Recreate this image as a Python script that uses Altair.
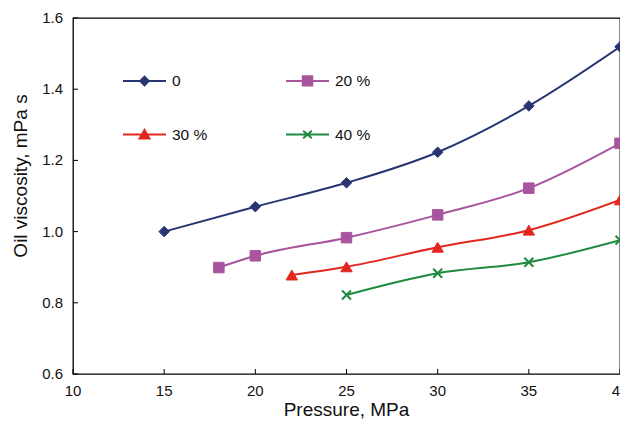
import altair as alt
import pandas as pd

series = ["0", "20 %", "30 %", "40 %"]
colors = ["#283571", "#a8559f", "#e2271f", "#1e8a3e"]

pressure_0 = [15, 20, 25, 30, 35, 40]
visc_0 = [1.00, 1.07, 1.137, 1.223, 1.353, 1.519]
pressure_20 = [18, 20, 25, 30, 35, 40]
visc_20 = [0.899, 0.932, 0.983, 1.047, 1.122, 1.248]
pressure_30 = [22, 25, 30, 35, 40]
visc_30 = [0.878, 0.901, 0.956, 1.004, 1.089]
pressure_40 = [25, 30, 35, 40]
visc_40 = [0.822, 0.883, 0.914, 0.976]

x_ticks = [10, 15, 20, 25, 30, 35, 40]
y_ticks = [0.6, 0.8, 1.0, 1.2, 1.4, 1.6]
x_title = "Pressure, MPa"
y_title = "Oil viscosity, mPa s"

rows = []
for name, ps, vs in zip(series, [pressure_0, pressure_20, pressure_30, pressure_40],
                        [visc_0, visc_20, visc_30, visc_40]):
    for p, v in zip(ps, vs):
        rows.append({"series": name, "pressure": p, "viscosity": v})
df = pd.DataFrame(rows)
xt_df = pd.DataFrame({"t": x_ticks})
yt_df = pd.DataFrame({"t": y_ticks})
xtitle_df = pd.DataFrame({"label": [x_title]})
ytitle_df = pd.DataFrame({"label": [y_title]})

W, H = 547, 356
FONT = "Liberation Sans"
TXT = "#111"

xscale = alt.Scale(domain=[10, 40], nice=False, zero=False)
yscale = alt.Scale(domain=[0.6, 1.6], nice=False, zero=False)
cscale = alt.Scale(domain=series, range=colors)

marker_shapes = ["diamond", "square", "triangle-up", "M-1,-1L1,1M-1,1L1,-1"]
marker_sizes = [110, 110, 130, 80]
marker_strokes = [1, 1, 1, 2]
# legend symbols: a 43 px line segment with the series marker at its centre
legend_paths = [
    "M-1,0H1M0,-0.2L0.2,0L0,0.2L-0.2,0Z",
    "M-1,0H1M-0.22,-0.22H0.22V0.22H-0.22Z",
    "M-1,0H1M0,-0.21L0.23,0.19L-0.23,0.19Z",
    "M-1,0H1M-0.2,-0.17L0.2,0.17M-0.2,0.17L0.2,-0.17",
]

legend = alt.Legend(
    title=None, orient="none", legendX=49, legendY=40, columns=2, direction="horizontal",
    symbolSize=1849, symbolStrokeWidth=2, symbolOpacity=1, labelOffset=5,
    labelFont=FONT, labelFontSize=15.5, labelColor=TXT, labelOpacity=1,
    columnPadding=74, rowPadding=22, padding=0,
)

lines = alt.Chart(df).mark_line(interpolate="monotone", strokeWidth=2).encode(
    x=alt.X("pressure:Q", scale=xscale, axis=None),
    y=alt.Y("viscosity:Q", scale=yscale, axis=None),
    color=alt.Color("series:N", scale=cscale, legend=legend),
)

layers = [lines]
for name, col, shp, sz, sw in zip(series, colors, marker_shapes, marker_sizes, marker_strokes):
    layers.append(
        alt.Chart(df).transform_filter(alt.datum.series == name).mark_point(
            filled=True, shape=shp, size=sz, fill=col, stroke=col, strokeWidth=sw, opacity=1
        ).encode(
            x=alt.X("pressure:Q", scale=xscale, axis=None),
            y=alt.Y("viscosity:Q", scale=yscale, axis=None),
        )
    )

legend_layer = alt.Chart(df).transform_filter("false").mark_point(filled=True, opacity=1).encode(
    fill=alt.Fill("series:N", scale=alt.Scale(domain=series, range=colors), legend=legend),
    stroke=alt.Stroke("series:N", scale=alt.Scale(domain=series, range=colors), legend=legend),
    shape=alt.Shape("series:N", scale=alt.Scale(domain=series, range=legend_paths), legend=legend),
)

# inward tick marks on the bottom and left edges
xticks_layer = alt.Chart(xt_df).mark_rule(color="#000", strokeWidth=1).encode(
    x=alt.X("t:Q", scale=xscale, axis=None),
    y=alt.value(H - 5), y2=alt.value(H),
)
yticks_layer = alt.Chart(yt_df).mark_rule(color="#000", strokeWidth=1).encode(
    y=alt.Y("t:Q", scale=yscale, axis=None),
    x=alt.value(0), x2=alt.value(5),
)

# tick labels and axis titles
xlabels = alt.Chart(xt_df).mark_text(font=FONT, fontSize=15, color=TXT, align="center",
                                     baseline="alphabetic").encode(
    x=alt.X("t:Q", scale=xscale, axis=None),
    y=alt.value(H + 22),
    text=alt.Text("t:Q", format="d"),
)
ylabels = alt.Chart(yt_df).mark_text(font=FONT, fontSize=15, color=TXT, align="right",
                                     baseline="middle").encode(
    y=alt.Y("t:Q", scale=yscale, axis=None),
    x=alt.value(-10),
    text=alt.Text("t:Q", format=".1f"),
)
xtitle = alt.Chart(xtitle_df).mark_text(font=FONT, fontSize=19, color=TXT, align="center",
                                        baseline="alphabetic").encode(
    x=alt.value(W / 2), y=alt.value(H + 42), text="label:N",
)
ytitle = alt.Chart(ytitle_df).mark_text(font=FONT, fontSize=19, color=TXT, align="center",
                                        baseline="middle", angle=270).encode(
    x=alt.value(-52), y=alt.value(158), text="label:N",
)

chart = alt.layer(*layers, xticks_layer, yticks_layer, xlabels, ylabels, xtitle, ytitle,
                  legend_layer).properties(
    width=W, height=H,
    autosize=alt.AutoSizeParams(type="none"),
    padding={"left": 65, "top": 10, "right": 0, "bottom": 45},
).configure_view(
    stroke="#000", strokeWidth=1.3
)

chart.save("out.html", embed_options={"renderer": "svg", "actions": False})
